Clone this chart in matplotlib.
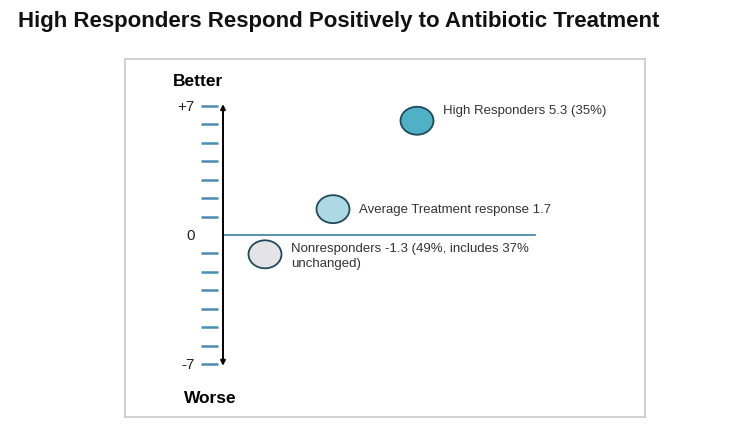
import matplotlib.pyplot as plt
from matplotlib.patches import Ellipse

# groups, plotted position (schematic, as drawn) and labels
groups = ["High Responders", "Average Treatment response", "Nonresponders"]
x_pos = [292, 208, 140]
y_pos = [6.2, 1.4, -1.05]
labels = ["High Responders 5.3 (35%)", "Average Treatment response 1.7",
          "Nonresponders -1.3 (49%, includes 37%\nunchanged)"]
label_dy = [0.6, 0.0, 0.65]
fills = ["#4fb0c6", "#add9e4", "#e4e4e8"]
ticks = [7, 6, 5, 4, 3, 2, 1, -1, -2, -3, -4, -5, -6, -7]

plt.rcParams['font.family'] = ['Liberation Sans', 'DejaVu Sans']
fig = plt.figure(figsize=(7.41, 4.27), dpi=100)
fig.text(18 / 741, 1 - 22 / 427, "High Responders Respond Positively to Antibiotic Treatment",
         fontsize=16, fontweight='bold', va='center', color='#111111')

ax = fig.add_axes([125 / 741, 1 - 418 / 427, 520 / 741, 358 / 427])
ax.set_xlim(0, 520)
ax.set_ylim(-9.88, 9.55)
ax.set_xticks([])
ax.set_yticks([])
for s in ax.spines.values():
    s.set_color('#c8c8c8')
    s.set_linewidth(1.2)

# vertical axis with arrows
ax.annotate("", xy=(98, 7.1), xytext=(98, -7.1),
            arrowprops=dict(arrowstyle='<|-|>', color='black', lw=1.4,
                            mutation_scale=7, shrinkA=0, shrinkB=0))
# zero line
ax.plot([98, 410], [0, 0], color='#3b7ea1', lw=1.2)
for t in ticks:
    ax.plot([76, 93], [t, t], color='#4a8db3', lw=1.8, solid_capstyle='butt')

ax.text(70, 7, "+7", ha='right', va='center', fontsize=11, color='#222222')
ax.text(70, 0, "0", ha='right', va='center', fontsize=11, color='#222222')
ax.text(70, -7, "-7", ha='right', va='center', fontsize=11, color='#222222')
ax.text(73, 8.4, "Better", ha='center', va='center', fontsize=12.5, fontweight='bold')
ax.text(85, -8.8, "Worse", ha='center', va='center', fontsize=12.5, fontweight='bold')

for x, y, lab, dy, c in zip(x_pos, y_pos, labels, label_dy, fills):
    ax.add_patch(Ellipse((x, y), 33, 28 / 18.43, facecolor=c, edgecolor='#1f4a5c', lw=1.3, zorder=3))
    ax.text(x + 26, y + dy, lab, ha='left',
            va='center' if '\n' not in lab else 'top', fontsize=9.5, color='#333333',
            linespacing=1.3)

fig.savefig("out.png", dpi=100)
